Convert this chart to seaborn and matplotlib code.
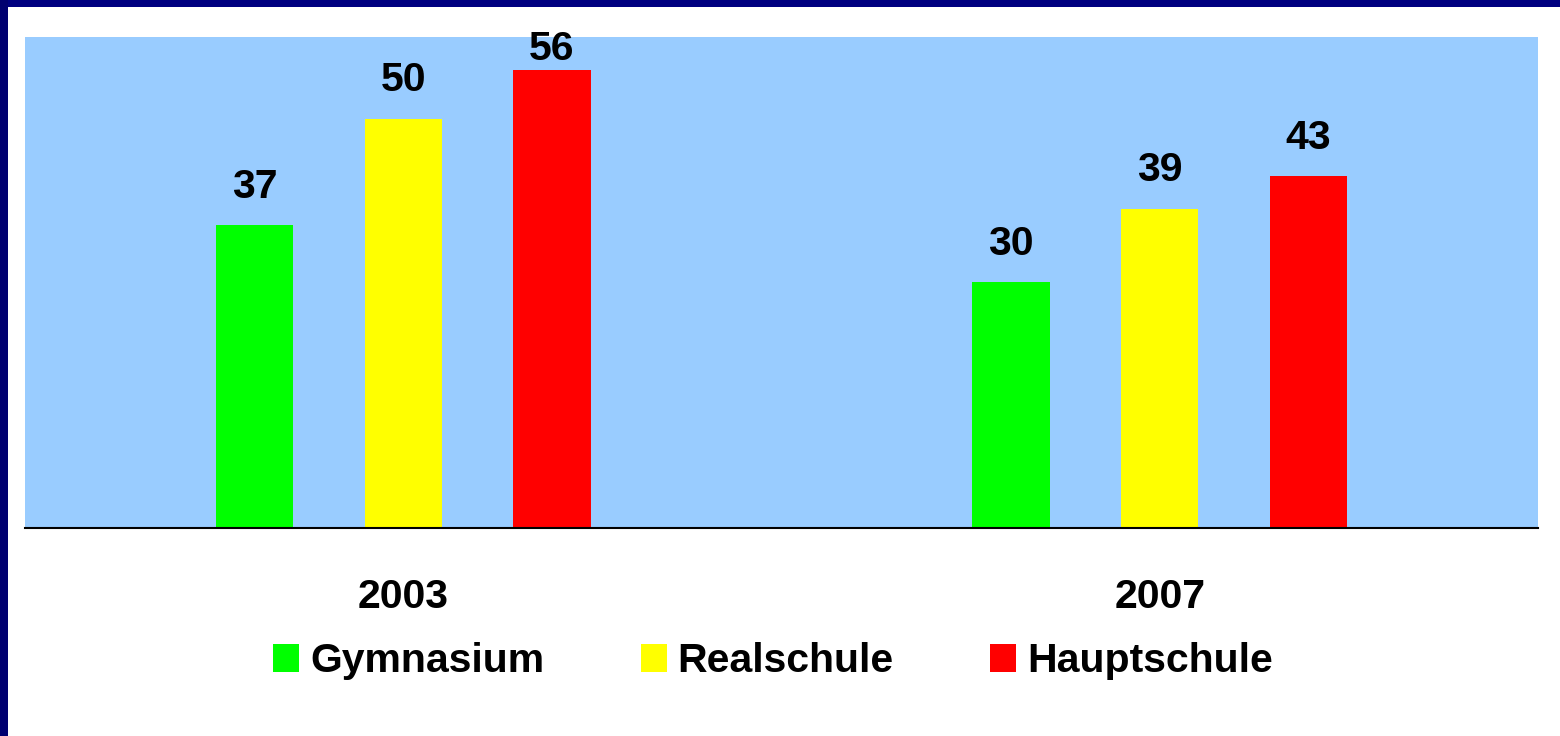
import matplotlib
matplotlib.use("Agg")
import matplotlib.pyplot as plt
from matplotlib.patches import Patch, Rectangle
import seaborn as sns
import pandas as pd

years = ["2003", "2007"]
schools = ["Gymnasium", "Realschule", "Hauptschule"]
values_2003 = [37, 50, 56]
values_2007 = [30, 39, 43]
colors = ["#00FF00", "#FFFF00", "#FF0000"]

df = pd.DataFrame({
    "Jahr": [y for y in years for _ in schools],
    "Schulform": schools * len(years),
    "Wert": values_2003 + values_2007,
})

sns.set_theme(style="white")
plt.rcParams["font.family"] = ["Liberation Sans", "DejaVu Sans"]
plt.rcParams["font.weight"] = "bold"
plt.rcParams["text.color"] = "black"
plt.rcParams["xtick.color"] = "black"

FS = 29.5
W, H = 1560, 736
fig = plt.figure(figsize=(W / 100, H / 100), dpi=100)
fig.patch.set_facecolor("white")

# navy frame along the top and left edges
fig.patches.append(Rectangle((0, 1 - 7 / H), 1, 7 / H, transform=fig.transFigure,
                             facecolor="#000080", edgecolor="none", zorder=0))
fig.patches.append(Rectangle((0, 0), 8 / W, 1, transform=fig.transFigure,
                             facecolor="#000070", edgecolor="none", zorder=0))

left, right, top, base = 25, 1538, 37, 528
ax = fig.add_axes([left / W, 1 - base / H, (right - left) / W, (base - top) / H])
ax.set_facecolor("#99CCFF")

sns.barplot(data=df, x="Jahr", y="Wert", hue="Schulform", hue_order=schools,
            palette=colors, width=0.59, gap=0.48, saturation=1, ax=ax,
            edgecolor="none", linewidth=0, legend=False)

ymax = 60
ax.set_xlim(-0.5, 1.5)
ax.set_ylim(0, ymax)

# value labels sit above the bars but stay inside the upper edge of the plot
pts_per_unit = ax.bbox.height / ymax * 72 / fig.dpi
ceiling = 56.0
for cont in ax.containers:
    for b in cont:
        h = b.get_height()
        pad = min(14.0, 1.0 + (ceiling - h) * pts_per_unit)
        ax.annotate(f"{h:.0f}", xy=(b.get_x() + b.get_width() / 2, h),
                    xytext=(0, pad), textcoords="offset points",
                    ha="center", va="bottom", fontsize=FS,
                    fontweight="bold", color="black")

ax.set_yticks([])
ax.set_xlabel("")
ax.set_ylabel("")
ax.tick_params(axis="x", length=0, pad=36, labelsize=FS, labelcolor="black")
for lab in ax.get_xticklabels():
    lab.set_fontweight("bold")
for side in ["top", "left", "right"]:
    ax.spines[side].set_visible(False)
ax.spines["bottom"].set_color("black")
ax.spines["bottom"].set_linewidth(1.5)

handles = [Patch(facecolor=c, edgecolor="none") for c in colors]
fig.legend(handles, schools, loc="center", bbox_to_anchor=(773 / W, 1 - 661 / H),
           ncol=3, frameon=False, handlelength=0.63,
           handleheight=0.68, handletextpad=0.27, columnspacing=2.35,
           prop={"weight": "bold", "size": FS}, labelcolor="black")

fig.savefig("out.png", dpi=100, facecolor=fig.get_facecolor())
